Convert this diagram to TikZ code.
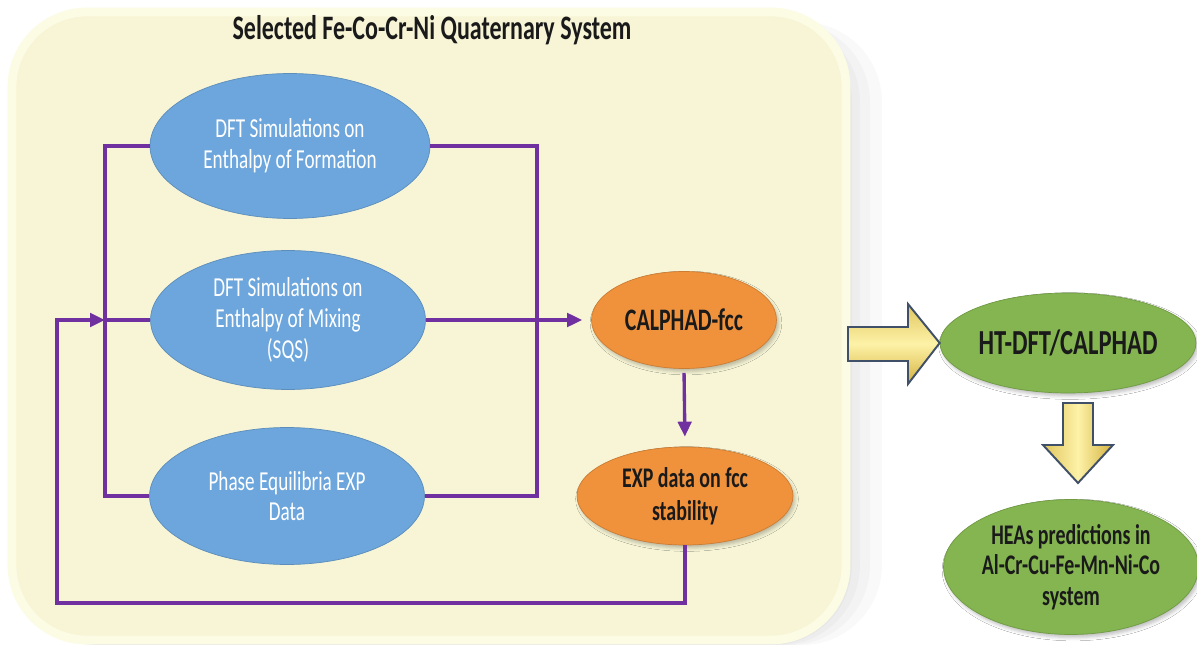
\documentclass[tikz,border=0pt]{standalone}
\usepackage{xcolor}
\usepackage{fontspec}
\setmainfont{Carlito}[FakeStretch=0.7]
\usetikzlibrary{positioning, shapes, arrows.meta, shadows.blur}
\definecolor{boxyellow}{RGB}{247,245,214}
\definecolor{boxrim}{RGB}{252,251,228}
\definecolor{skyblue}{RGB}{108,166,220}
\definecolor{calorange}{RGB}{240,146,60}
\definecolor{leafgreen}{RGB}{132,181,80}
\definecolor{linkpurple}{RGB}{112,48,160}
\definecolor{goldlight}{RGB}{253,242,168}
\definecolor{golddark}{RGB}{212,178,62}
\definecolor{slateedge}{RGB}{64,80,104}
\definecolor{inkdark}{RGB}{26,26,26}

\begin{document}
\begin{tikzpicture}[x=0.02cm, y=-0.02cm]
\tikzstyle{blob}=[shape=ellipse, inner sep=0pt, align=center];
\tikzstyle{dft}=[blob, fill=skyblue, draw=skyblue!85!black, line width=0.4pt, text=white, minimum width=5.5cm, minimum height=2.76cm, font=\fontsize{15.6}{17.5}\selectfont];
\tikzstyle{calc}=[blob, fill=calorange, draw=calorange!85!black, line width=0.4pt, text=inkdark, font=\bfseries\fontsize{16.2}{19}\selectfont, blur shadow={shadow xshift=0.04cm, shadow yshift=-0.06cm, shadow opacity=25}];
\tikzstyle{pred}=[blob, fill=leafgreen, draw=leafgreen!85!black, line width=0.4pt, text=inkdark, font=\bfseries\fontsize{16.2}{17.5}\selectfont, blur shadow={shadow xshift=0.04cm, shadow yshift=-0.06cm, shadow opacity=25}];
\tikzstyle{link}=[draw=linkpurple, line width=1.9pt];
\tikzstyle{flow}=[link, -{Triangle[length=0.3cm, width=0.27cm]}];
\tikzstyle{blockarr}=[draw=slateedge, line width=1.1pt, line join=miter];

\useasboundingbox (0,0) rectangle (1197,645);
\fill[white] (0,0) rectangle (1197,645);

% quaternary system panel, with a soft haze on its right
\foreach \s in {6,14,24,36}
  \fill[black, opacity=0.025, rounded corners=1.6cm] (12+\s/3,22) rectangle (846+\s,645);
\path[rounded corners=1.5cm, fill=boxyellow, draw=boxrim, line width=5pt]
  (12,12) rectangle (846,640);
\node[font=\bfseries\fontsize{19.5}{22}\selectfont, text=inkdark] (title) at (432,30) {Selected Fe-Co-Cr-Ni Quaternary System};

% input data
\node[dft, minimum width=5.6cm, minimum height=2.9cm] (form) at (290,146) {DFT Simulations on\\Enthalpy of Formation};
\node[dft, minimum height=2.78cm] (mix) at (288,320) {DFT Simulations on\\Enthalpy of Mixing\\(SQS)};
\node[dft, minimum height=2.74cm] (phase) at (287,496) {Phase Equilibria EXP\\Data};

% calphad
\node[calc, minimum width=3.7cm, minimum height=1.94cm, font=\bfseries\fontsize{17.8}{19}\selectfont] (fcc) at (684,320) {CALPHAD-fcc};
\node[calc, minimum width=4.32cm, minimum height=1.96cm] (exp) at (685,496) {EXP data on fcc\\stability};

% high throughput
\node[pred, minimum width=5.12cm, minimum height=2cm, font=\bfseries\fontsize{20}{22}\selectfont] (ht) at (1068,343) {HT-DFT/CALPHAD};
\node[pred, minimum width=5.1cm, minimum height=2.7cm] (hea) at (1071,567) {HEAs predictions in\\Al-Cr-Cu-Fe-Mn-Ni-Co\\system};

% connectors
\coordinate (jl) at (105,320);
\coordinate (jr) at (537,320);
\coordinate (fb) at (57,603);
\draw[link] (form.west) -| (jl) |- (phase.west);
\draw[link] (jl) -- (mix.west);
\draw[link] (form.east) -| (jr) |- (phase.east);
\draw[flow, shorten >=0.18cm] (mix.east) -- (fcc.west);
\draw[flow, shorten <=0.08cm, shorten >=0.2cm] (fcc.south) -- (exp.north);
\draw[flow] (exp.south) |- (fb) |- (jl);

% block arrows
\draw[blockarr, top color=golddark!70!goldlight, bottom color=golddark, middle color=goldlight]
  (848,327) -- (908,327) -- (908,304) -- (ht.west) -- (908,384) -- (908,361) -- (848,361) -- cycle;
\draw[blockarr, left color=golddark!70!goldlight, right color=golddark, middle color=goldlight]
  (1063,403) -- (1093,403) -- (1093,445) -- (1113,445) -- (1078,483) -- (1043,445) -- (1063,445) -- cycle;
\end{tikzpicture}
\end{document}
